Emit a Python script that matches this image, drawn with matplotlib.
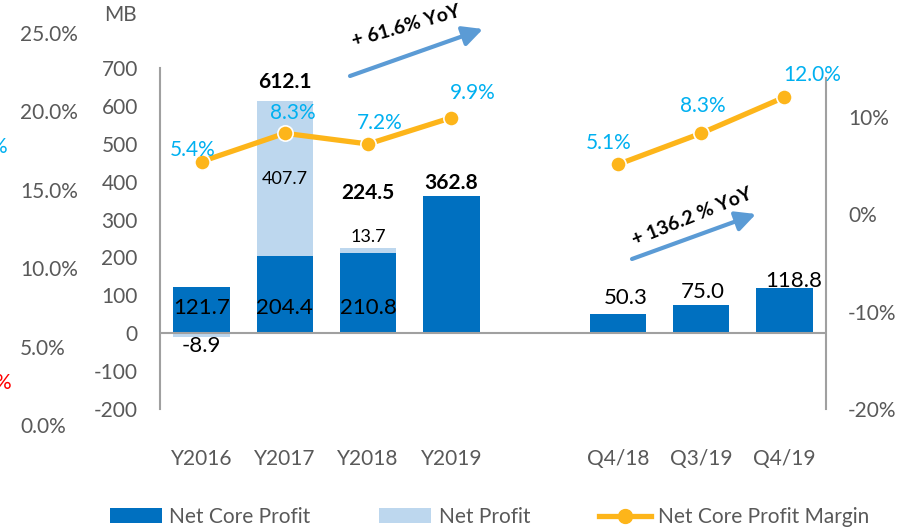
import numpy as np
import matplotlib
matplotlib.use("Agg")
import matplotlib.pyplot as plt
from matplotlib.patches import Patch
from matplotlib.lines import Line2D

plt.rcParams['font.family'] = ['Lato', 'DejaVu Sans']

# ---- data -------------------------------------------------------------
periods = ['Y2016', 'Y2017', 'Y2018', 'Y2019', '', 'Q4/18', 'Q3/19', 'Q4/19']
core_profit = [121.7, 204.4, 210.8, 362.8, np.nan, 50.3, 75.0, 118.8]
net_profit = [112.8, 612.1, 224.5, 362.8, np.nan, np.nan, np.nan, np.nan]
core_margin = [5.4, 8.3, 7.2, 9.9, np.nan, 5.1, 8.3, 12.0]
mb_ticks = [-200, -100, 0, 100, 200, 300, 400, 500, 600, 700]
margin_ticks = [-20, -10, 0, 10]
pct_ticks = [0, 5, 10, 15, 20, 25]
growth_annual = '+ 61.6% YoY'
growth_quarter = '+ 136.2 % YoY'

# ---- styling ----------------------------------------------------------
DARK = '#0070C0'
LIGHT = '#BDD7EE'
ORANGE = '#FDB51A'
CYAN = '#00B0F0'
ARROW = '#5B9BD5'
GRAY_TXT = '#595959'
GRAY_LN = '#A0A0A0'
W, H = 912, 531

fig = plt.figure(figsize=(W / 100, H / 100), dpi=100)

# secondary percentage scale on the far left
ax_pct = fig.add_axes([20 / W, 1 - 425 / H, 0.01, 392 / H])
ax_pct.set_ylim(0, 25)
ax_pct.set_yticks(pct_ticks)
ax_pct.set_yticklabels([f'{v:.1f}%' for v in pct_ticks])
ax_pct.tick_params(axis='y', length=0, pad=0, labelsize=15, labelcolor=GRAY_TXT)
plt.setp(ax_pct.get_yticklabels(), ha='left')
ax_pct.xaxis.set_visible(False)
for s in ax_pct.spines.values():
    s.set_visible(False)
ax_pct.patch.set_visible(False)

# main profit axes (MB)
ax = fig.add_axes([160 / W, 1 - 409 / H, 666 / W, 341 / H])
ax.patch.set_visible(False)
x = np.arange(len(periods))
core = np.array(core_profit)
net = np.array(net_profit)
extra = np.round(net - core, 1)
bw = 0.68

ax.bar(x, core, width=bw, color=DARK, zorder=2)
extra_bottom = np.where(extra > 0, core, 0)
ax.bar(x, extra, width=bw, bottom=extra_bottom, color=LIGHT, zorder=2)

ax.set_xlim(-0.5, 7.5)
ax.set_ylim(-200, 700)
ax.axhline(0, color=GRAY_LN, lw=1.5, zorder=3)
for k in ['top', 'bottom', 'right']:
    ax.spines[k].set_visible(False)
ax.spines['left'].set_color(GRAY_LN)
ax.spines['left'].set_linewidth(1.5)
ax.set_yticks(mb_ticks)
ax.set_yticklabels([str(v) for v in mb_ticks])
ax.set_xticks(x)
ax.set_xticklabels(periods)
ax.tick_params(axis='y', length=0, pad=16, labelsize=15, labelcolor=GRAY_TXT)
ax.tick_params(axis='x', length=0, pad=29, labelsize=15, labelcolor=GRAY_TXT)

fig.text(137 / W, 1 - 15 / H, 'MB', ha='right', va='center', fontsize=15, color=GRAY_TXT)

# core profit labels: inside base for annual, above bar for quarterly
for i in range(3):
    ax.annotate(f'{core[i]:.1f}', (x[i], 0), xytext=(0, 18), textcoords='offset points',
                ha='center', va='center', fontsize=16, color='black', zorder=5)
q_offsets = [(6, 11.5), (1.5, 9), (7, 5)]
for (dx, dy), i in zip(q_offsets, range(5, 8)):
    ax.annotate(f'{core[i]:.1f}', (x[i], core[i]), xytext=(dx, dy), textcoords='offset points',
                ha='center', va='center', fontsize=16, color='black', zorder=5)

# non-core (net profit difference) labels
ax.annotate(f'{extra[0]:.1f}', (x[0], extra[0]), xytext=(0, -7), textcoords='offset points',
            ha='center', va='center', fontsize=16, color='black', zorder=5)
ax.annotate(f'{extra[1]:.1f}', (x[1], core[1] + extra[1] / 2), ha='center', va='center',
            fontsize=13, color='black', zorder=5)
ax.annotate(f'{extra[2]:.1f}', (x[2], net[2]), xytext=(0, 8), textcoords='offset points',
            ha='center', va='center', fontsize=13, color='black', zorder=5)

# net profit totals (bold)
tot_offsets = {1: 14, 2: 40, 3: 9}
for i, dy in tot_offsets.items():
    ax.annotate(f'{net[i]:.1f}', (x[i], net[i]), xytext=(0, dy), textcoords='offset points',
                ha='center', va='center', fontsize=15, fontweight='bold', color='black', zorder=5)

# margin line on right axis
ax2 = ax.twinx()
ax2.set_ylim(-20, 15)
for k in ['top', 'bottom', 'left']:
    ax2.spines[k].set_visible(False)
ax2.spines['right'].set_color(GRAY_LN)
ax2.spines['right'].set_linewidth(1.5)
ax2.spines['right'].set_bounds(-20, 14)
ax2.set_yticks(margin_ticks)
ax2.set_yticklabels([f'{v}%' for v in margin_ticks])
ax2.tick_params(axis='y', length=0, pad=16, labelsize=15, labelcolor=GRAY_TXT)

ax2.plot(x, core_margin, color=ORANGE, lw=3.8, marker='o', markersize=11,
         markerfacecolor=ORANGE, markeredgecolor='white', markeredgewidth=1.2,
         solid_capstyle='butt', zorder=4)
m_offsets = [(-6.5, 8.6), (5.8, 14.4), (8.6, 15.1), (15.1, 18), None,
             (-6.5, 15.8), (1.4, 19.4), (20, 15.8)]
for i, off in enumerate(m_offsets):
    if off is None:
        continue
    ax2.annotate(f'{core_margin[i]:.1f}%', (x[i], core_margin[i]), xytext=off,
                 textcoords='offset points', ha='center', va='center',
                 fontsize=15, color=CYAN, zorder=6)

# growth arrows
def px(xp, yp):
    return (xp / W, 1 - yp / H)

arrow_style = dict(arrowstyle='-|>,head_length=0.6,head_width=0.3', color=ARROW,
                   lw=3, mutation_scale=20, shrinkA=0, shrinkB=0)
fig.add_artist(matplotlib.patches.FancyArrowPatch(px(350, 76), px(483, 29),
               transform=fig.transFigure, **arrow_style))
fig.add_artist(matplotlib.patches.FancyArrowPatch(px(632, 259), px(756, 214),
               transform=fig.transFigure, **arrow_style))
fig.text(*px(406, 26), growth_annual, rotation=16, rotation_mode='anchor',
         ha='center', va='center', fontsize=14, fontweight='bold', color='black')
fig.text(*px(692, 217), growth_quarter, rotation=22, rotation_mode='anchor',
         ha='center', va='center', fontsize=14, fontweight='bold', color='black')

# clipped labels at the left edge
fig.text(7 / W, 1 - 147 / H, '%', ha='right', va='center', fontsize=15, color=CYAN)
fig.text(11 / W, 1 - 383 / H, '%', ha='right', va='center', fontsize=15, color='#FF0000')

# legend
handles = [Patch(facecolor=DARK, edgecolor='none'),
           Patch(facecolor=LIGHT, edgecolor='none'),
           Line2D([0], [0], color=ORANGE, lw=3.8, marker='o', markersize=10,
                  markerfacecolor=ORANGE, markeredgecolor=ORANGE)]
fig.legend(handles, ['Net Core Profit', 'Net Profit', 'Net Core Profit Margin'],
           loc='center left', bbox_to_anchor=(110 / W, 14 / H), ncol=3, frameon=False,
           fontsize=15, labelcolor=GRAY_TXT, handlelength=2.5, handleheight=0.7,
           handletextpad=0.35, columnspacing=3.3, borderpad=0, borderaxespad=0)

fig.savefig('out.png', dpi=100)
